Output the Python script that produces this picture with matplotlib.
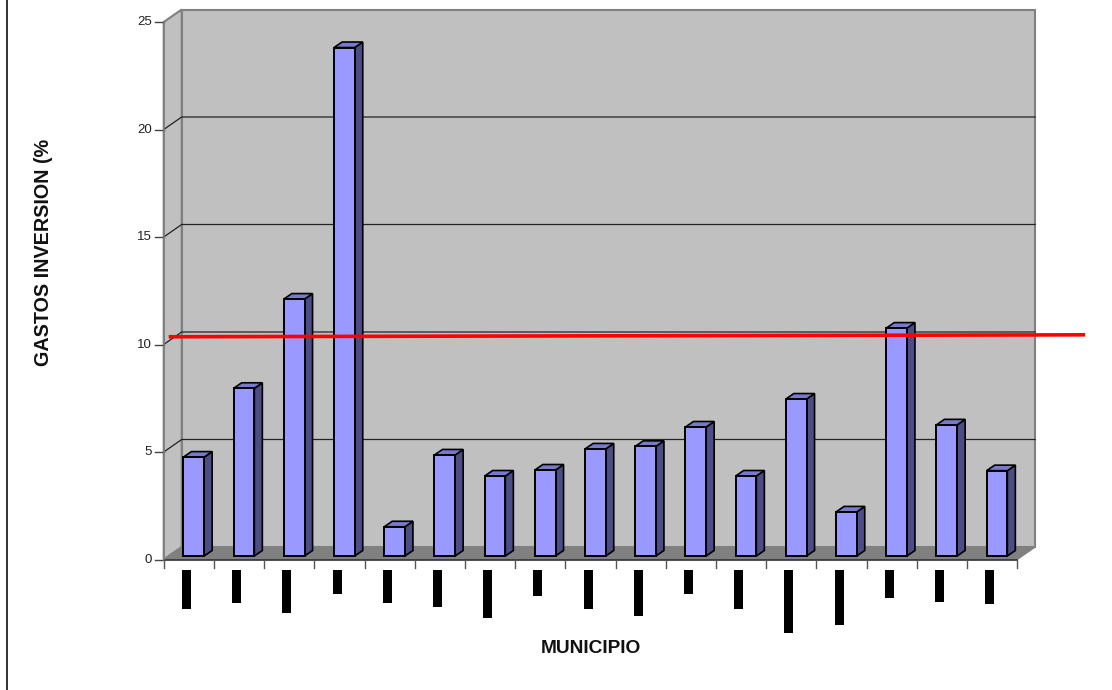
# Gastos de inversion por municipio (fake 3D column chart)

import matplotlib
matplotlib.use("Agg")

import matplotlib.pyplot as plt
from matplotlib.patches import Polygon

plt.rcParams["font.family"] = ["Liberation Sans", "DejaVu Sans"]

# ------------------------------------------
# Data
# ------------------------------------------

gastos = [4.6, 7.8, 11.95, 23.65, 1.36, 4.7, 3.72, 4.0, 4.98,
          5.1, 6.0, 3.72, 7.3, 2.05, 10.6, 6.1, 3.97]

# municipality names are blacked out in the picture, only their length shows
name_lengths = [1.81, 1.53, 2.0, 1.12, 1.53, 1.72, 2.23, 1.21, 1.81,
                2.14, 1.12, 1.81, 2.93, 2.56, 1.3, 1.49, 1.56]

y_ticks = [0, 5, 10, 15, 20, 25]
limit_start = 10.36
limit_end = 10.45

# ------------------------------------------
# Scales
# ------------------------------------------

W, H = 1112, 690
x0_px, y0_px = 163.7, 559.5
cat_px, unit_px = 50.2, 21.5

fig = plt.figure(figsize=(W / 100, H / 100), dpi=100)
ax = fig.add_axes([0, 0, 1, 1])
ax.set_xlim(-x0_px / cat_px, (W - x0_px) / cat_px)
ax.set_ylim((y0_px - H) / unit_px, y0_px / unit_px)
ax.axis("off")

n = len(gastos)
wall_dx = 18 / cat_px
wall_dy = 12.5 / unit_px
ymax = y_ticks[-1]

GREY = "#c0c0c0"
EDGE = "#808080"

# ------------------------------------------
# Walls and floor
# ------------------------------------------

ax.add_patch(Polygon([(wall_dx, wall_dy), (n + wall_dx, wall_dy),
                      (n + wall_dx, ymax + wall_dy), (wall_dx, ymax + wall_dy)],
                     facecolor=GREY, edgecolor=EDGE, lw=1.5, zorder=1))
ax.add_patch(Polygon([(0, 0), (wall_dx, wall_dy),
                      (wall_dx, ymax + wall_dy), (0, ymax)],
                     facecolor=GREY, edgecolor=EDGE, lw=1.5, zorder=1))
ax.add_patch(Polygon([(0, 0), (wall_dx, wall_dy), (n + wall_dx, wall_dy), (n, 0)],
                     facecolor=EDGE, edgecolor=EDGE, lw=1, zorder=2))

for v in y_ticks:
    if 0 < v < ymax:
        ax.plot([0, wall_dx, n + wall_dx], [v, v + wall_dy, v + wall_dy],
                color="#222222", lw=0.9, zorder=2)
    ax.plot([-9 / cat_px, 0], [v, v], color="#444444", lw=1, zorder=3)
    ax.text(-12 / cat_px, v - 0.02, str(v), ha="right", va="center",
            fontsize=9.5, color="#222222")

ax.plot([0, n], [0, 0], color="#333333", lw=1.2, zorder=3)
ax.plot([0, 0], [0, ymax], color=EDGE, lw=1.2, zorder=3)

for i in range(n + 1):
    ax.plot([i, i], [0, -8.5 / unit_px], color="#555555", lw=1, zorder=3)

# ------------------------------------------
# Bars
# ------------------------------------------

bar_w = 20.7 / cat_px
bar_dx = 8 / cat_px
bar_dy = 5.5 / unit_px
lift = 3.5 / unit_px
shift = 5 / cat_px

for i, g in enumerate(gastos):
    left = i + 0.5 + shift - bar_w / 2
    right = left + bar_w
    top = g + lift

    ax.bar(left, g, width=bar_w, bottom=lift, align="edge",
           color="#9999ff", edgecolor="black", lw=1.4, zorder=5)
    ax.add_patch(Polygon([(right, lift), (right + bar_dx, lift + bar_dy),
                          (right + bar_dx, top + bar_dy), (right, top)],
                         facecolor="#4d4d85", edgecolor="black", lw=1.2, zorder=4))
    ax.add_patch(Polygon([(left, top), (left + bar_dx, top + bar_dy),
                          (right + bar_dx, top + bar_dy), (right, top)],
                         facecolor="#7a7acc", edgecolor="black", lw=1.2, zorder=4))

    # blacked out label under the axis
    ax.bar(i + 0.5 - 2.3 / cat_px, -name_lengths[i], width=9 / cat_px,
           bottom=-10.5 / unit_px, color="black", lw=0, zorder=3)

# ------------------------------------------
# Limit line
# ------------------------------------------

ax.plot([5 / cat_px, 921.5 / cat_px], [limit_start, limit_end],
        color="#ff0000", lw=2.6, solid_capstyle="butt", zorder=7)

# ------------------------------------------
# Labels and page border
# ------------------------------------------

ax.text((590.5 - x0_px) / cat_px, (y0_px - 648.5) / unit_px, "MUNICIPIO",
        ha="center", va="center", fontsize=13.8, fontweight="bold", color="#111111")
ax.text((43.5 - x0_px) / cat_px, (y0_px - 252) / unit_px, "GASTOS INVERSION (%",
        ha="center", va="center", rotation=90, fontsize=14.2,
        fontweight="bold", color="#111111")

ax.plot([(7 - x0_px) / cat_px] * 2, [(y0_px - H) / unit_px, y0_px / unit_px],
        color="#333333", lw=1.4)

fig.savefig("out.png", dpi=100)
